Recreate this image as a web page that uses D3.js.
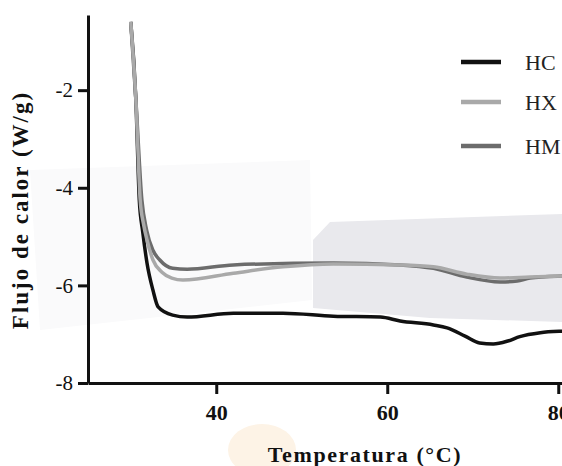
<!DOCTYPE html>
<html>
<head>
<meta charset="utf-8">
<script src="https://cdn.jsdelivr.net/npm/d3@7"></script>
<style>
  html, body { margin: 0; padding: 0; background: #fff; }
  svg { display: block; }
</style>
</head>
<body>
<div id="chart"></div>
<script>
// Données (Temperatura en °C, Flujo de calor en W/g)
const series = ["HC", "HX", "HM"];
const seriesColors = ["#111111", "#a9a9a9", "#6c6c6c"];

const tempHC = [30.0, 30.6, 31.0, 31.4, 31.9, 32.6, 33.2, 34.9, 36.6, 42.0, 47.8, 53.7, 59.2, 61.5, 65.4, 67.0, 69.1, 70.8, 72.4, 74.1, 75.5, 77.9, 80.4, 83.0];
const fluxHC = [-0.6, -2.2, -4.25, -4.9, -5.54, -6.1, -6.44, -6.61, -6.65, -6.57, -6.57, -6.63, -6.65, -6.73, -6.81, -6.87, -7.04, -7.18, -7.2, -7.14, -7.05, -6.97, -6.94, -6.93];

const tempHX = [30.0, 30.6, 31.1, 31.5, 31.9, 32.6, 33.65, 34.8, 36.1, 42.0, 47.8, 53.7, 61.5, 65.4, 69.3, 73.2, 76.7, 80.4, 83.0];
const fluxHX = [-0.6, -2.2, -4.25, -4.75, -5.07, -5.48, -5.73, -5.85, -5.89, -5.75, -5.62, -5.56, -5.58, -5.62, -5.77, -5.85, -5.83, -5.81, -5.8];

const tempHM = [30.0, 30.6, 31.3, 31.86, 32.6, 33.4, 34.9, 36.6, 42.0, 53.7, 61.5, 65.4, 69.3, 73.2, 75.2, 76.7, 80.4, 83.0];
const fluxHM = [-0.6, -2.2, -4.25, -4.87, -5.28, -5.48, -5.65, -5.67, -5.58, -5.54, -5.58, -5.65, -5.83, -5.93, -5.91, -5.85, -5.81, -5.8];

const xTicks = [40, 60, 80];
const yTicks = [-8, -6, -4, -2];

const xTitle = "Temperatura (°C)";
const yTitle = "Flujo de calor (W/g)";

//---------------------------------------------------------------------------------------

const width = 562;
const height = 466;
const font = "'Liberation Serif', 'Times New Roman', serif";

const svg = d3.select("#chart")
  .append("svg")
  .attr("width", width)
  .attr("height", height)
  .attr("viewBox", [0, 0, width, height]);

// filigrane de fond (décor de la page source)
const bg = svg.append("g");
bg.append("path")
  .attr("d", "M30,170 L310,160 L312,300 L40,330 Z")
  .attr("fill", "#fafafb");
bg.append("path")
  .attr("d", "M313,240 L330,222 L562,214 L562,322 L430,318 L313,308 Z")
  .attr("fill", "#e9e9ed");
bg.append("ellipse")
  .attr("cx", 262).attr("cy", 450).attr("rx", 34).attr("ry", 26)
  .attr("fill", "#fdf3e6");

//---------------------------------------------------------------------------------------

// échelles
const scaleX = d3.scaleLinear().domain([25, 100]).range([88, 88 + 75 * 8.55]);
const scaleY = d3.scaleLinear().domain([-8, -0.46]).range([383, 15]);

const dataLines = [
  { name: series[0], values: tempHC.map((t, i) => ({ t, v: fluxHC[i] })) },
  { name: series[1], values: tempHX.map((t, i) => ({ t, v: fluxHX[i] })) },
  { name: series[2], values: tempHM.map((t, i) => ({ t, v: fluxHM[i] })) },
];
const scaleC = d3.scaleOrdinal().domain(series).range(seriesColors);

const lineGenerator = d3.line()
  .x(d => scaleX(d.t))
  .y(d => scaleY(d.v))
  .curve(d3.curveMonotoneX);

// ordre de tracé : noir, gris foncé, gris clair
const drawOrder = ["HC", "HM", "HX"];
svg.append("g")
  .selectAll("path")
  .data(drawOrder.map(n => dataLines.find(d => d.name === n)))
  .join("path")
  .attr("d", d => lineGenerator(d.values))
  .attr("fill", "none")
  .attr("stroke", d => scaleC(d.name))
  .attr("stroke-width", 3.5)
  .attr("stroke-linejoin", "round");

//---------------------------------------------------------------------------------------

// axes
const xAxis = svg.append("g")
  .attr("transform", `translate(0, ${scaleY(-8)})`)
  .call(d3.axisBottom(scaleX).tickValues(xTicks).tickSize(11).tickSizeOuter(0).tickPadding(10).tickFormat(d => String(d)));

const yAxis = svg.append("g")
  .attr("transform", `translate(${scaleX(25)}, 0)`)
  .call(d3.axisLeft(scaleY).tickValues(yTicks).tickSize(10).tickSizeOuter(0).tickPadding(5).tickFormat(d => String(d)));

[xAxis, yAxis].forEach(g => {
  g.select(".domain").attr("stroke", "#111").attr("stroke-width", 3);
  g.selectAll(".tick line").attr("stroke", "#111").attr("stroke-width", 3);
  g.selectAll("text").attr("fill", "#111").style("font-family", font);
});
xAxis.selectAll("text").style("font-size", "22px").style("font-weight", "bold");
yAxis.selectAll("text").style("font-size", "21px");

// titres des axes
svg.append("text")
  .attr("x", 365)
  .attr("y", 462)
  .attr("text-anchor", "middle")
  .style("font-family", font)
  .style("font-size", "22px")
  .style("font-weight", "bold")
  .style("letter-spacing", "1.6px")
  .attr("fill", "#111")
  .text(xTitle);

svg.append("text")
  .attr("transform", "translate(28, 210) rotate(-90)")
  .attr("text-anchor", "middle")
  .style("font-family", font)
  .style("font-size", "23px")
  .style("font-weight", "bold")
  .style("letter-spacing", "2px")
  .attr("fill", "#111")
  .text(yTitle);

//---------------------------------------------------------------------------------------

// légende
const legendY = [62, 102, 146];
const legend = svg.append("g")
  .selectAll("g")
  .data(series)
  .join("g")
  .attr("transform", (d, i) => `translate(461, ${legendY[i]})`);

legend.append("line")
  .attr("x1", 0).attr("x2", 40)
  .attr("stroke", d => scaleC(d))
  .attr("stroke-width", 4.5);

legend.append("text")
  .attr("x", 64)
  .attr("y", 8)
  .style("font-family", font)
  .style("font-size", "22px")
  .attr("fill", "#222")
  .text(d => d);
</script>
</body>
</html>
